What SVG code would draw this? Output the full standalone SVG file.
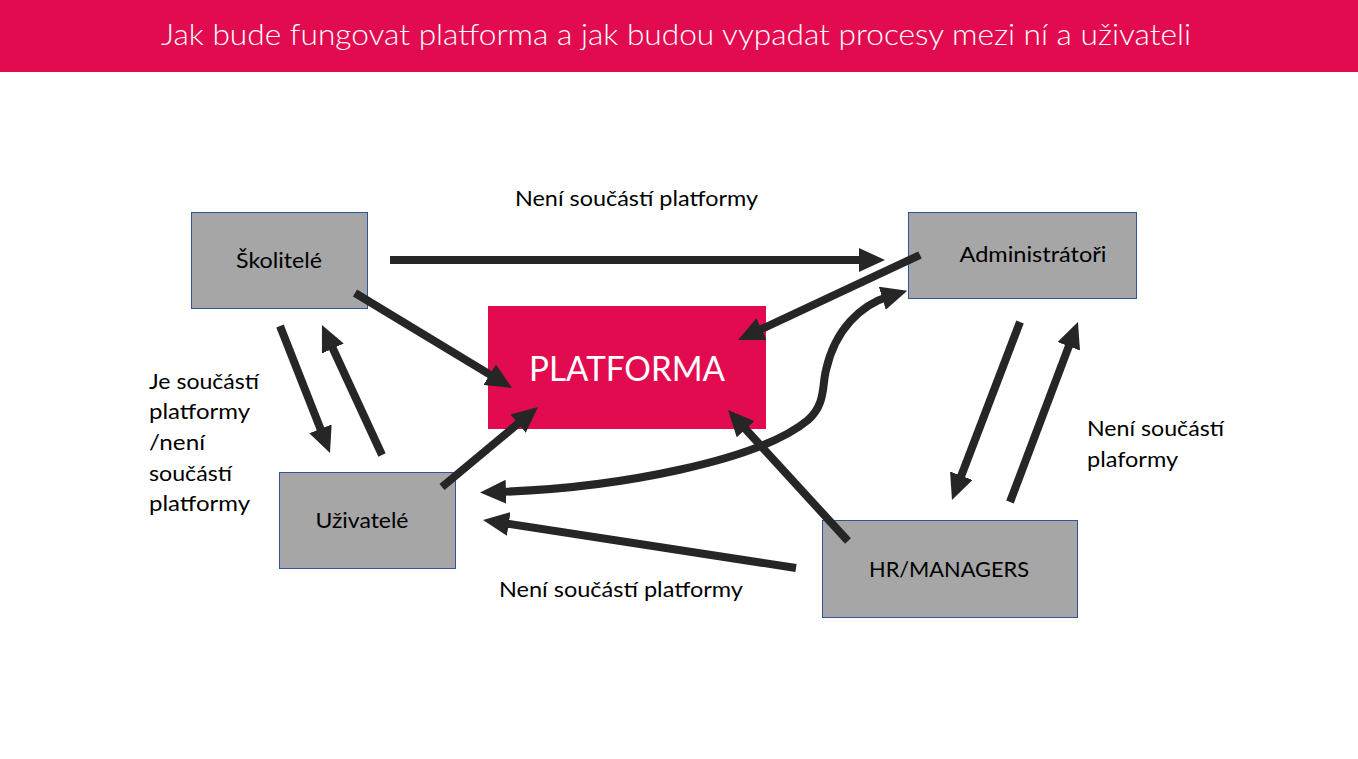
<svg xmlns="http://www.w3.org/2000/svg" width="1358" height="759" viewBox="0 0 1358 759">
<style>
.box{fill:#A6A6A6;stroke:#2F5597;stroke-width:1}
.lbl{font-family:Lato,"Open Sans",sans-serif;font-size:21px;fill:#000}
.nl{font-family:Lato,"Open Sans",sans-serif;font-size:21px;fill:#000;text-anchor:middle}
.c{stroke:#262626;stroke-width:8;fill:none;marker-end:url(#ah)}
</style>
<defs>
<marker id="ah" markerUnits="userSpaceOnUse" viewBox="0 0 26 24" markerWidth="26" markerHeight="24" refX="8" refY="12" orient="auto-start-reverse">
<path d="M0,0 L26,12 L0,24 z" fill="#262626"/>
</marker>
</defs>
<rect x="0" y="0" width="1358" height="72" fill="#E30B50"/>
<text x="676" y="45" font-family="Lato, Open Sans, sans-serif" font-weight="300" font-size="30" fill="#fff" text-anchor="middle" textLength="1030" lengthAdjust="spacingAndGlyphs">Jak bude fungovat platforma a jak budou vypadat procesy mezi ní a uživateli</text>

<g id="platforma">
<rect x="488" y="306" width="278" height="123" fill="#E30B50"/>
<text x="627" y="381" font-family="Lato, Open Sans, sans-serif" font-size="34" fill="#fff" text-anchor="middle" textLength="196" lengthAdjust="spacingAndGlyphs">PLATFORMA</text>
</g>
<g id="skolitele">
<rect class="box" x="191.5" y="212.5" width="176" height="96"/>
<text class="nl" x="279" y="268" textLength="86" lengthAdjust="spacingAndGlyphs">Školitelé</text>
</g>
<g id="administratori">
<rect class="box" x="908.5" y="212.5" width="228" height="86"/>
<text class="nl" x="1033" y="262" textLength="147" lengthAdjust="spacingAndGlyphs">Administrátoři</text>
</g>
<g id="uzivatele">
<rect class="box" x="279.5" y="472.5" width="176" height="96"/>
<text class="nl" x="362" y="528" textLength="93" lengthAdjust="spacingAndGlyphs">Uživatelé</text>
</g>
<g id="hr">
<rect class="box" x="822.5" y="520.5" width="255" height="97"/>
<text class="nl" x="949" y="577" textLength="160" lengthAdjust="spacingAndGlyphs">HR/MANAGERS</text>
</g>

<g id="connectors">
<path class="c" d="M390,260 L867,260"/>
<path class="c" d="M355,293 L496.6,378.7"/>
<path class="c" d="M280,326 L323.4,436.3"/>
<path class="c" d="M382,455 L329.5,341.3"/>
<path class="c" d="M442,487 L524.2,418.5"/>
<path class="c" d="M920,255 L754.3,332.4"/>
<path class="c" d="M1020,322 L958.4,483.2"/>
<path class="c" d="M1010,502 L1071.6,338.8"/>
<path class="c" d="M848,541 L740.2,423.3"/>
<path class="c" d="M796,568 L500.8,522.7"/>
<path class="c" style="marker-start:url(#ah)" d="M498,492 C620,488 760,460 808,420 C826,404 822,385 826,370 C835,330 860,305 890,296"/>
</g>

<g id="labels">
<text class="lbl" x="515" y="206" textLength="243" lengthAdjust="spacingAndGlyphs">Není součástí platformy</text>
<text class="lbl" x="499" y="597" textLength="244" lengthAdjust="spacingAndGlyphs">Není součástí platformy</text>
<text class="lbl" x="149" y="389" textLength="110" lengthAdjust="spacingAndGlyphs">Je součástí</text>
<text class="lbl" x="149" y="419" textLength="101" lengthAdjust="spacingAndGlyphs">platformy</text>
<text class="lbl" x="149" y="450" textLength="56" lengthAdjust="spacingAndGlyphs">/není</text>
<text class="lbl" x="149" y="481" textLength="83" lengthAdjust="spacingAndGlyphs">součástí</text>
<text class="lbl" x="149" y="511" textLength="101" lengthAdjust="spacingAndGlyphs">platformy</text>
<text class="lbl" x="1087" y="436" textLength="137" lengthAdjust="spacingAndGlyphs">Není součástí</text>
<text class="lbl" x="1087" y="467" textLength="91" lengthAdjust="spacingAndGlyphs">plaformy</text>
</g>
</svg>
